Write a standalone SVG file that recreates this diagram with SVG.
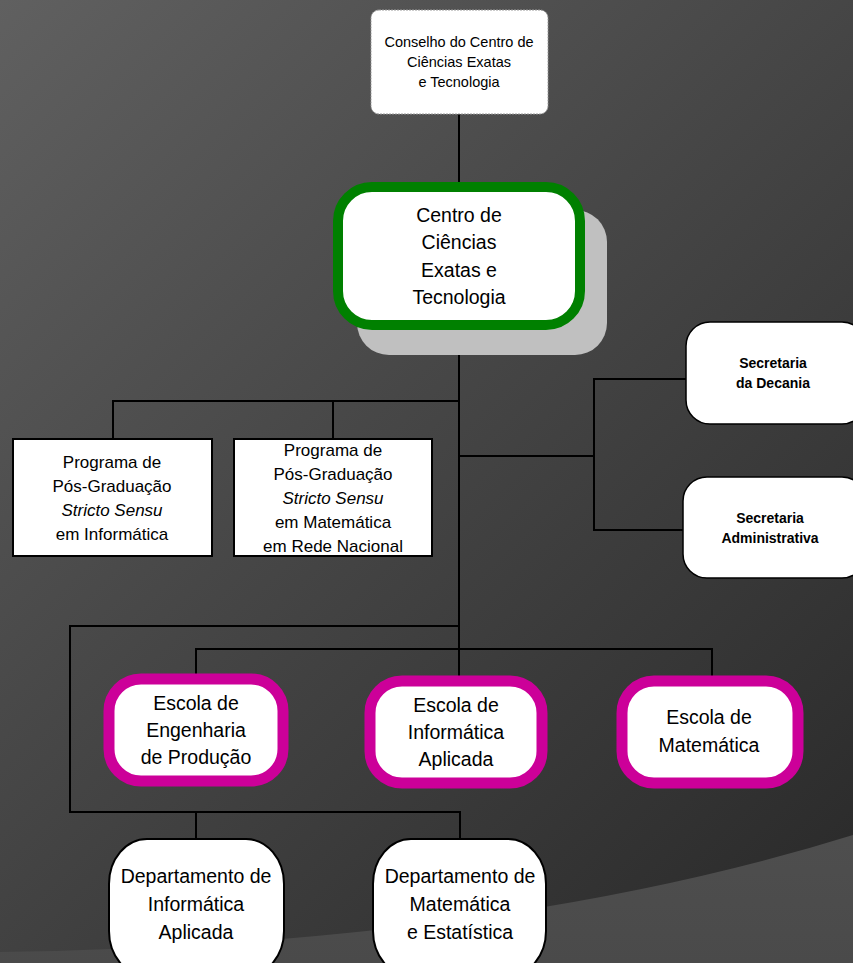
<svg xmlns="http://www.w3.org/2000/svg" width="853" height="963" viewBox="0 0 853 963">
<defs>
<linearGradient id="bg" x1="0" y1="0" x2="853" y2="900" gradientUnits="userSpaceOnUse">
<stop offset="0" stop-color="#606060"/>
<stop offset="0.45" stop-color="#474747"/>
<stop offset="1" stop-color="#2a2a2a"/>
</linearGradient>
<linearGradient id="band" x1="0" y1="840" x2="0" y2="963" gradientUnits="userSpaceOnUse">
<stop offset="0" stop-color="#4e4e4e"/>
<stop offset="1" stop-color="#4a4a4a"/>
</linearGradient>
<style>
text{font-family:"Liberation Sans",Arial,Helvetica,sans-serif;fill:#000;text-anchor:middle}
.conn{stroke:#000;stroke-width:2;fill:none;stroke-linecap:square}
.prog{fill:#fff;stroke:#000;stroke-width:2}
.esc{fill:#fff;stroke:#cc0099;stroke-width:11}
.dep{fill:#fff;stroke:#000;stroke-width:2}
.sec{fill:#fff;stroke:#000;stroke-width:1.5}
.t14{font-size:14.5px}
.t17{font-size:17px}
.t19{font-size:19.5px}
.b14{font-size:14px;font-weight:bold}
</style>
</defs>
<rect x="0" y="0" width="853" height="963" fill="url(#bg)"/>
<path d="M0,952 Q500,945 853,835 L853,963 L0,963 Z" fill="url(#band)"/>

<g id="connectors">
<line class="conn" x1="459" y1="114" x2="459" y2="185"/>
<line class="conn" x1="459" y1="330" x2="459" y2="680"/>
<polyline class="conn" points="113,439 113,401 459,401"/>
<line class="conn" x1="333" y1="401" x2="333" y2="439"/>
<line class="conn" x1="459" y1="456" x2="594" y2="456"/>
<polyline class="conn" points="686,379 594,379 594,530 684,530"/>
<polyline class="conn" points="459,626 70,626 70,812 460,812 460,839"/>
<line class="conn" x1="196" y1="812" x2="196" y2="839"/>
<polyline class="conn" points="196,675 196,649 712,649 712,677"/>
</g>

<g id="conselho">
<rect x="371" y="10" width="177" height="104" rx="8" fill="#fff" stroke="#999" stroke-width="1" stroke-dasharray="2,1"/>
<text class="t14" x="459" y="47">Conselho do Centro de</text>
<text class="t14" x="459" y="67">Ciências Exatas</text>
<text class="t14" x="459" y="87">e Tecnologia</text>
</g>

<g id="centro">
<rect x="357" y="210" width="250" height="145" rx="32" fill="#c0c0c0"/>
<rect x="338" y="187" width="242" height="138" rx="34" fill="#fff" stroke="#008000" stroke-width="10"/>
<text class="t19" x="459" y="222">Centro de</text>
<text class="t19" x="459" y="249">Ciências</text>
<text class="t19" x="459" y="277">Exatas e</text>
<text class="t19" x="459" y="304">Tecnologia</text>
</g>

<g id="ppg-informatica">
<rect class="prog" x="13" y="439" width="199" height="117"/>
<text class="t17" x="112" y="468">Programa de</text>
<text class="t17" x="112" y="492">Pós-Graduação</text>
<text class="t17" x="112" y="516" font-style="italic">Stricto Sensu</text>
<text class="t17" x="112" y="540">em Informática</text>
</g>

<g id="ppg-matematica">
<rect class="prog" x="234" y="439" width="198" height="117"/>
<text class="t17" x="333" y="456">Programa de</text>
<text class="t17" x="333" y="480">Pós-Graduação</text>
<text class="t17" x="333" y="504" font-style="italic">Stricto Sensu</text>
<text class="t17" x="333" y="528">em Matemática</text>
<text class="t17" x="333" y="552">em Rede Nacional</text>
</g>

<g id="sec-decania">
<rect class="sec" x="686" y="322" width="180" height="102" rx="24"/>
<text class="b14" x="773" y="368">Secretaria</text>
<text class="b14" x="773" y="388">da Decania</text>
</g>

<g id="sec-administrativa">
<rect class="sec" x="683" y="477" width="183" height="101" rx="24"/>
<text class="b14" x="770" y="523">Secretaria</text>
<text class="b14" x="770" y="543">Administrativa</text>
</g>

<g id="escola-engenharia">
<rect class="esc" x="109" y="679" width="174" height="102" rx="32"/>
<text class="t19" x="196" y="710">Escola de</text>
<text class="t19" x="196" y="737">Engenharia</text>
<text class="t19" x="196" y="764">de Produção</text>
</g>

<g id="escola-informatica">
<rect class="esc" x="370" y="681" width="172" height="102" rx="32"/>
<text class="t19" x="456" y="712">Escola de</text>
<text class="t19" x="456" y="739">Informática</text>
<text class="t19" x="456" y="766">Aplicada</text>
</g>

<g id="escola-matematica">
<rect class="esc" x="622" y="681" width="176" height="102" rx="32"/>
<text class="t19" x="709" y="724">Escola de</text>
<text class="t19" x="709" y="752">Matemática</text>
</g>

<g id="dep-informatica">
<rect class="dep" x="109" y="839" width="175" height="137" rx="38" ry="45"/>
<text class="t19" x="196" y="883">Departamento de</text>
<text class="t19" x="196" y="911">Informática</text>
<text class="t19" x="196" y="939">Aplicada</text>
</g>

<g id="dep-matematica">
<rect class="dep" x="373" y="839" width="173" height="137" rx="38" ry="45"/>
<text class="t19" x="460" y="883">Departamento de</text>
<text class="t19" x="460" y="911">Matemática</text>
<text class="t19" x="460" y="939">e Estatística</text>
</g>
</svg>
